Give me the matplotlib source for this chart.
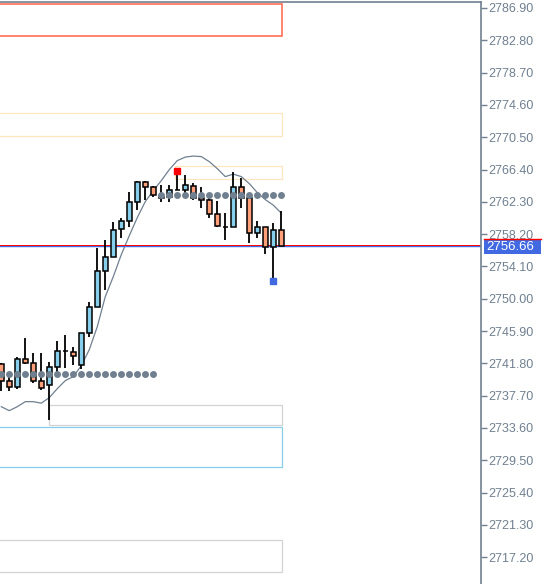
import matplotlib
matplotlib.use("Agg")
import matplotlib.pyplot as plt
from matplotlib.patches import Rectangle
from matplotlib.transforms import blended_transform_factory
import numpy as np

plt.rcParams['font.family'] = ['Liberation Sans', 'DejaVu Sans']

# candles (index 0 = leftmost, partly cut)
opens  = [2741.68, 2739.56, 2738.76, 2742.32, 2741.81, 2739.53, 2739.06, 2741.30, 2743.37, 2743.28,
          2741.60, 2745.62, 2748.92, 2753.56, 2755.26, 2758.82, 2759.87, 2762.24, 2764.86, 2764.15,
          2762.75, 2762.85, 2763.80, 2763.80, 2764.30, 2762.75, 2762.53, 2760.76, 2759.15, 2759.07,
          2764.15, 2762.75, 2758.31, 2759.07, 2756.53, 2758.73]
highs  = [2741.89, 2740.41, 2742.57, 2744.98, 2743.08, 2743.08, 2741.94, 2744.68, 2745.40, 2743.92,
          2745.70, 2749.63, 2756.40, 2757.46, 2759.78, 2760.21, 2763.51, 2764.98, 2764.98, 2764.31,
          2764.44, 2764.44, 2766.25, 2765.71, 2764.65, 2764.15, 2762.95, 2762.45, 2760.85, 2766.13,
          2765.29, 2762.75, 2759.87, 2759.07, 2759.65, 2761.14]
lows   = [2738.30, 2738.30, 2738.51, 2741.70, 2739.27, 2738.42, 2734.62, 2740.74, 2741.18, 2741.60,
          2741.09, 2745.19, 2748.90, 2751.11, 2755.26, 2757.67, 2759.07, 2761.27, 2762.53, 2762.88,
          2762.32, 2762.32, 2763.80, 2763.46, 2762.53, 2761.48, 2760.21, 2759.15, 2757.46, 2759.07,
          2761.48, 2757.12, 2757.67, 2755.64, 2752.60, 2756.66]
closes = [2739.56, 2738.76, 2742.32, 2741.81, 2739.53, 2738.64, 2741.30, 2743.41, 2743.37, 2742.78,
          2745.62, 2748.92, 2753.56, 2755.26, 2758.73, 2759.87, 2762.24, 2764.86, 2764.15, 2763.17,
          2762.95, 2763.80, 2763.80, 2764.44, 2762.75, 2762.53, 2760.76, 2759.27, 2759.15, 2764.15,
          2762.75, 2758.31, 2759.07, 2756.53, 2758.73, 2756.66]

# smoothed line (one value per bar)
ma = [2736.30, 2735.80, 2736.30, 2736.94, 2736.94, 2736.75, 2737.45, 2738.59, 2739.61, 2740.12,
      2741.51, 2743.54, 2746.46, 2750.27, 2752.81, 2755.60, 2758.01, 2760.30, 2762.33, 2763.72,
      2764.99, 2766.39, 2767.53, 2767.98, 2768.11, 2768.04, 2767.40, 2766.51, 2765.50, 2765.82,
      2765.50, 2764.61, 2763.47, 2762.58, 2761.88, 2760.86]

upper_dots = 2763.17   # bars 20..35
lower_dots = 2740.41   # bars 0..19
high_mark = (22, 2766.25)
low_mark = (34, 2752.29)
last_price = 2756.66

# zones: (x start, x end, price low, price high, colour)
zones = [(-1, 35.05, 2783.35, 2787.37, '#FF6347'),
         (-1, 35.05, 2770.62, 2773.54, '#FFE4C0'),
         (21.7, 35.05, 2765.16, 2766.85, '#FFE4C0'),
         (6.0, 35.05, 2733.98, 2736.48, '#D3D3D3'),
         (-1, 35.05, 2728.61, 2733.77, '#87CEEB'),
         (-1, 35.05, 2715.29, 2719.39, '#D3D3D3')]

yticks = [round(2717.20 + 4.1 * k, 2) for k in range(18)]

axis_col = '#708090'
fig = plt.figure(figsize=(5.51, 5.84), dpi=100)
ax = fig.add_axes([0, 0, 481 / 551, 1 - 2 / 584])
ax.set_xlim(-0.16, 59.96)
ax.set_ylim(2713.80, 2787.66)

for x0, x1, lo, hi, c in zones:
    lw = 1.1 if c == '#FF6347' else 0.9
    ax.add_patch(Rectangle((x0, lo), x1 - x0, hi - lo, fill=False, edgecolor=c, lw=lw, zorder=1))

idx = np.arange(len(opens))
o = np.array(opens); c = np.array(closes)
ax.vlines(idx, lows, highs, color='black', lw=1.3, zorder=3)
cols = np.where(c > o, '#87CEEB', '#FFA07A')
cols = np.where(np.isclose(c, o), 'black', cols)
ax.bar(idx, c - o, bottom=o, width=0.68, color=cols, edgecolor='black', lw=1.1, zorder=4)

ax.plot(idx, ma, color=axis_col, lw=0.9, zorder=2)

ax.plot(idx[20:], [upper_dots] * 16, 'o', color=axis_col, ms=5, mec='none', zorder=5)
ax.plot(idx[:20], [lower_dots] * 20, 'o', color=axis_col, ms=5, mec='none', zorder=5)

ax.plot(*high_mark, 's', color='#FF0000', ms=5, zorder=6)
ax.plot(*low_mark, 's', color='#4169E1', ms=5, zorder=6)

ax.axhline(last_price, color='#4169E1', lw=1.0, zorder=2)
ax.axhline(last_price + 0.13, color='#FF0000', lw=0.7, zorder=2)

# price label on the axis
tr = blended_transform_factory(ax.transAxes, ax.transData)
ax.add_patch(Rectangle((1.006, last_price - 0.98), 0.119, 1.9, transform=tr, facecolor='#4169E1',
                       edgecolor='none', clip_on=False, zorder=8))
ax.plot([1.006, 1.125], [last_price + 0.92] * 2, transform=tr, color='#FF0000', lw=1.0,
        clip_on=False, zorder=9)
ax.text(1.012, last_price - 0.05, f"{last_price:.2f}", transform=tr, color='white', fontsize=9.5,
        va='center', ha='left', zorder=10)

ax.yaxis.tick_right()
ax.set_yticks(yticks)
ax.set_yticklabels([f"{v:.2f}" for v in yticks])
ax.tick_params(axis='y', colors=axis_col, length=4, width=1, pad=1.5, labelsize=9)
ax.set_xticks([])
for s in ['left', 'bottom']:
    ax.spines[s].set_visible(False)
for s in ['top', 'right']:
    ax.spines[s].set_color(axis_col)
    ax.spines[s].set_linewidth(1.2)

fig.savefig('out.png', dpi=100)
